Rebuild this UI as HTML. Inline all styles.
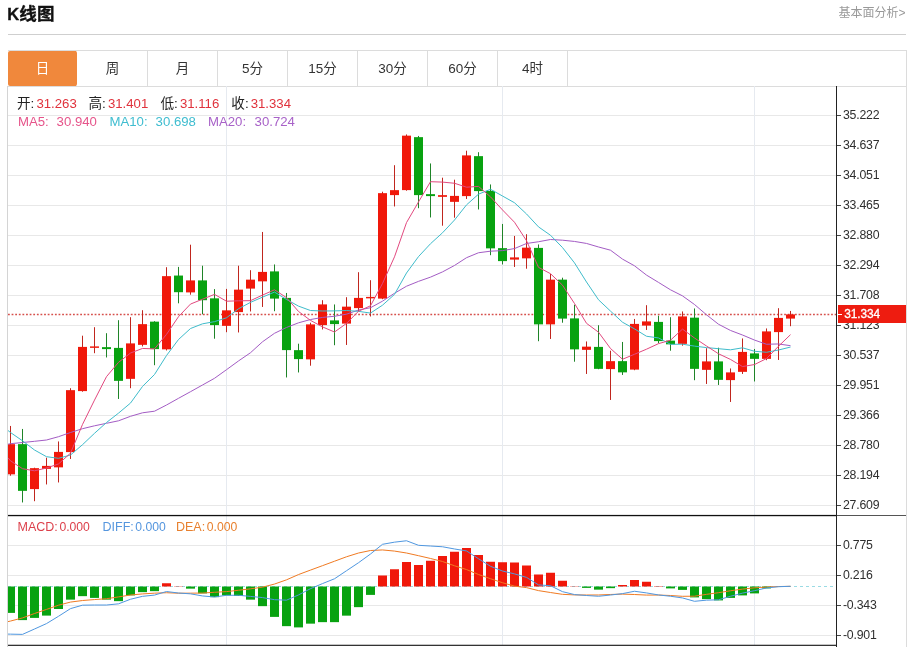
<!DOCTYPE html>
<html lang="zh-CN">
<head>
<meta charset="utf-8">
<title>K线图</title>
<style>
html,body{margin:0;padding:0;background:#fff;}
body{width:911px;height:647px;position:relative;overflow:hidden;
 font-family:"Liberation Sans","Noto Sans CJK SC",sans-serif;color:#222;}
.title{position:absolute;left:7.2px;top:1px;font-size:17.5px;font-weight:bold;color:#111;line-height:26px;white-space:nowrap;letter-spacing:0.2px;-webkit-text-stroke:0.35px #111}
.title b{font-size:16.5px;letter-spacing:0.2px}
.more{position:absolute;right:5.5px;top:4px;font-size:12px;color:#999;line-height:18px;white-space:nowrap}
.hr{position:absolute;left:8px;top:34px;width:898px;height:1px;background:#cfcfcf}
.tabs{position:absolute;left:8px;top:50px;width:898px;height:35px;border:1px solid #dcdcdc;border-left:none;box-sizing:content-box}
.tab{position:absolute;top:0;width:69px;height:35px;border-right:1px solid #dcdcdc;line-height:36px;text-align:center;font-size:13.5px;color:#333}
.tab.on{background:#f0883c;color:#fff;left:0px!important;border-right-color:#fff;background-clip:padding-box;top:0;height:35px;border-radius:2px}
.lg{position:absolute;white-space:nowrap;line-height:16px}
.l1{font-size:13.6px;top:95.5px;color:#222}
.l1 i{font-style:normal;color:#e0323c;font-size:13.2px;margin-left:2px}
.l2{font-size:13.2px;top:113.5px}
.l3{font-size:12.5px;top:518.5px}
.l3 i{font-style:normal;font-size:12.2px;margin-left:1.6px}
.yl{position:absolute;left:843px;font-size:12.3px;line-height:16px;color:#2e2e2e;white-space:nowrap;letter-spacing:-0.22px}
.tag{position:absolute;left:838px;top:305.2px;width:68px;height:17.5px;background:#ee1c10;font-size:11.9px;line-height:19.4px;color:#fff;white-space:nowrap;letter-spacing:-0.1px;text-indent:6.2px;-webkit-text-stroke:0.3px #fff}
.tag:before{content:"";position:absolute;left:0;top:8.6px;width:3.5px;height:1px;background:#fff}
</style>
</head>
<body>
<div class="title"><b>K</b>线图</div>
<div class="more">基本面分析&gt;</div>
<div class="hr"></div>
<div class="tabs">
<div class="tab on" style="left:0px">日</div>
<div class="tab" style="left:70px">周</div>
<div class="tab" style="left:140px">月</div>
<div class="tab" style="left:210px">5分</div>
<div class="tab" style="left:280px">15分</div>
<div class="tab" style="left:350px">30分</div>
<div class="tab" style="left:420px">60分</div>
<div class="tab" style="left:490px">4时</div>
</div>
<svg width="911" height="561" viewBox="0 0 911 561" style="position:absolute;left:0;top:86px">
<defs><clipPath id="cp"><rect x="8" y="0" width="828" height="561"/></clipPath></defs>
<rect x="8" y="29" width="828" height="1" fill="#e8e8e8"/><rect x="8" y="59" width="828" height="1" fill="#e8e8e8"/><rect x="8" y="89" width="828" height="1" fill="#e8e8e8"/><rect x="8" y="119" width="828" height="1" fill="#e8e8e8"/><rect x="8" y="149" width="828" height="1" fill="#e8e8e8"/><rect x="8" y="179" width="828" height="1" fill="#e8e8e8"/><rect x="8" y="209" width="828" height="1" fill="#e8e8e8"/><rect x="8" y="239" width="828" height="1" fill="#e8e8e8"/><rect x="8" y="269" width="828" height="1" fill="#e8e8e8"/><rect x="8" y="299" width="828" height="1" fill="#e8e8e8"/><rect x="8" y="329" width="828" height="1" fill="#e8e8e8"/><rect x="8" y="359" width="828" height="1" fill="#e8e8e8"/><rect x="8" y="389" width="828" height="1" fill="#e8e8e8"/><rect x="8" y="419" width="828" height="1" fill="#e8e8e8"/><rect x="8" y="459" width="828" height="1" fill="#e8e8e8"/><rect x="8" y="489" width="828" height="1" fill="#e8e8e8"/><rect x="8" y="519" width="828" height="1" fill="#e8e8e8"/><rect x="8" y="549" width="828" height="1" fill="#e8e8e8"/><rect x="226" y="0" width="1" height="559" fill="#e6eaf0"/><rect x="502" y="0" width="1" height="559" fill="#e6eaf0"/><rect x="754" y="0" width="1" height="559" fill="#e6eaf0"/>
<line x1="8" y1="228.4" x2="836" y2="228.4" stroke="#d6504c" stroke-width="1.5" stroke-dasharray="1.8 1.81"/>
<line x1="8" y1="500.5" x2="833" y2="500.5" stroke="#9adbe4" stroke-width="1" stroke-dasharray="3 3"/>
<g clip-path="url(#cp)">
<rect x="10" y="339.95" width="1" height="49.75" fill="#c0261e"/><rect x="6" y="358.15" width="9" height="30.2" fill="#f0180a"/><rect x="22" y="342.95" width="1" height="73.5" fill="#1f8428"/><rect x="18" y="358.15" width="9" height="46.7" fill="#08a210"/><rect x="34" y="381.7" width="1" height="33.5" fill="#c0261e"/><rect x="30" y="382.15" width="9" height="20.95" fill="#f0180a"/><rect x="46" y="371.7" width="1" height="26.75" fill="#c0261e"/><rect x="42" y="379.9" width="9" height="2.95" fill="#f0180a"/><rect x="58" y="355.45" width="1" height="41" fill="#c0261e"/><rect x="54" y="365.9" width="9" height="15.45" fill="#f0180a"/><rect x="70" y="302.2" width="1" height="70.75" fill="#c0261e"/><rect x="66" y="304.15" width="9" height="61.95" fill="#f0180a"/><rect x="82" y="249.7" width="1" height="56" fill="#c0261e"/><rect x="78" y="260.9" width="9" height="44.2" fill="#f0180a"/><rect x="94" y="241.2" width="1" height="26" fill="#c0261e"/><rect x="90" y="260.4" width="9" height="1.45" fill="#f0180a"/><rect x="106" y="247.2" width="1" height="24.25" fill="#1f8428"/><rect x="102" y="261.15" width="9" height="1.95" fill="#08a210"/><rect x="118" y="234.2" width="1" height="78.75" fill="#1f8428"/><rect x="114" y="261.9" width="9" height="32.95" fill="#08a210"/><rect x="130" y="231.2" width="1" height="71" fill="#c0261e"/><rect x="126" y="257.4" width="9" height="35.45" fill="#f0180a"/><rect x="142" y="224.2" width="1" height="36.25" fill="#c0261e"/><rect x="138" y="238.15" width="9" height="20.7" fill="#f0180a"/><rect x="154" y="235.2" width="1" height="44" fill="#1f8428"/><rect x="150" y="235.65" width="9" height="27.45" fill="#08a210"/><rect x="166" y="181.2" width="1" height="83.25" fill="#c0261e"/><rect x="162" y="190.15" width="9" height="73.2" fill="#f0180a"/><rect x="178" y="180.9" width="1" height="36.4" fill="#1f8428"/><rect x="174" y="189.55" width="9" height="16.65" fill="#08a210"/><rect x="190" y="158.7" width="1" height="50" fill="#c0261e"/><rect x="186" y="194.4" width="9" height="12" fill="#f0180a"/><rect x="202" y="179.7" width="1" height="48.6" fill="#1f8428"/><rect x="198" y="194.4" width="9" height="19.8" fill="#08a210"/><rect x="214" y="203.1" width="1" height="49.6" fill="#1f8428"/><rect x="210" y="212.35" width="9" height="26.75" fill="#08a210"/><rect x="226" y="202.9" width="1" height="43.3" fill="#c0261e"/><rect x="222" y="224.35" width="9" height="15.5" fill="#f0180a"/><rect x="238" y="179.7" width="1" height="66.75" fill="#c0261e"/><rect x="234" y="203.65" width="9" height="22.45" fill="#f0180a"/><rect x="250" y="184.2" width="1" height="41.25" fill="#c0261e"/><rect x="246" y="193.65" width="9" height="8.95" fill="#f0180a"/><rect x="262" y="145.95" width="1" height="75" fill="#c0261e"/><rect x="258" y="185.9" width="9" height="9.45" fill="#f0180a"/><rect x="274" y="178.45" width="1" height="46.75" fill="#1f8428"/><rect x="270" y="185.4" width="9" height="27.2" fill="#08a210"/><rect x="286" y="206.95" width="1" height="84.5" fill="#1f8428"/><rect x="282" y="211.9" width="9" height="52.2" fill="#08a210"/><rect x="298" y="257.7" width="1" height="28.75" fill="#1f8428"/><rect x="294" y="264.15" width="9" height="8.95" fill="#08a210"/><rect x="310" y="236.7" width="1" height="43" fill="#c0261e"/><rect x="306" y="238.4" width="9" height="34.95" fill="#f0180a"/><rect x="322" y="214.2" width="1" height="29.25" fill="#c0261e"/><rect x="318" y="218.4" width="9" height="20.7" fill="#f0180a"/><rect x="334" y="218.45" width="1" height="40.75" fill="#1f8428"/><rect x="330" y="234.4" width="9" height="3.7" fill="#08a210"/><rect x="346" y="211.2" width="1" height="47.75" fill="#c0261e"/><rect x="342" y="220.65" width="9" height="16.95" fill="#f0180a"/><rect x="358" y="186.2" width="1" height="39" fill="#c0261e"/><rect x="354" y="211.9" width="9" height="10.2" fill="#f0180a"/><rect x="370" y="194.2" width="1" height="36.25" fill="#c0261e"/><rect x="366" y="210.9" width="9" height="1.45" fill="#f0180a"/><rect x="382" y="105.7" width="1" height="107.5" fill="#c0261e"/><rect x="378" y="107.15" width="9" height="105.45" fill="#f0180a"/><rect x="394" y="79.2" width="1" height="41.25" fill="#c0261e"/><rect x="390" y="104.15" width="9" height="4.95" fill="#f0180a"/><rect x="406" y="48.45" width="1" height="56.25" fill="#c0261e"/><rect x="402" y="49.65" width="9" height="54.45" fill="#f0180a"/><rect x="418" y="49.95" width="1" height="72.25" fill="#1f8428"/><rect x="414" y="51.15" width="9" height="57.95" fill="#08a210"/><rect x="430" y="77.45" width="1" height="54" fill="#1f8428"/><rect x="426" y="108.15" width="9" height="1.95" fill="#08a210"/><rect x="442" y="91.7" width="1" height="48" fill="#c0261e"/><rect x="438" y="109.15" width="9" height="1.7" fill="#f0180a"/><rect x="454" y="93.7" width="1" height="38" fill="#c0261e"/><rect x="450" y="109.9" width="9" height="5.95" fill="#f0180a"/><rect x="466" y="64.7" width="1" height="48.25" fill="#c0261e"/><rect x="462" y="69.4" width="9" height="40.7" fill="#f0180a"/><rect x="478" y="66.2" width="1" height="57.25" fill="#1f8428"/><rect x="474" y="70.15" width="9" height="34.95" fill="#08a210"/><rect x="490" y="98.45" width="1" height="70.75" fill="#1f8428"/><rect x="486" y="104.9" width="9" height="57.45" fill="#08a210"/><rect x="502" y="137.95" width="1" height="40.5" fill="#1f8428"/><rect x="498" y="162.15" width="9" height="12.95" fill="#08a210"/><rect x="514" y="149.95" width="1" height="31" fill="#c0261e"/><rect x="510" y="171.4" width="9" height="2.2" fill="#f0180a"/><rect x="526" y="148.2" width="1" height="34.5" fill="#c0261e"/><rect x="522" y="161.65" width="9" height="10.7" fill="#f0180a"/><rect x="538" y="158.45" width="1" height="96.75" fill="#1f8428"/><rect x="534" y="161.9" width="9" height="76.45" fill="#08a210"/><rect x="550" y="187.95" width="1" height="65" fill="#c0261e"/><rect x="546" y="193.65" width="9" height="44.7" fill="#f0180a"/><rect x="562" y="191.7" width="1" height="45" fill="#1f8428"/><rect x="558" y="193.65" width="9" height="38.95" fill="#08a210"/><rect x="574" y="218.7" width="1" height="57" fill="#1f8428"/><rect x="570" y="232.4" width="9" height="30.95" fill="#08a210"/><rect x="586" y="255.45" width="1" height="32.5" fill="#c0261e"/><rect x="582" y="260.65" width="9" height="3.2" fill="#f0180a"/><rect x="598" y="239.2" width="1" height="44" fill="#1f8428"/><rect x="594" y="260.9" width="9" height="21.95" fill="#08a210"/><rect x="610" y="264.7" width="1" height="49.25" fill="#c0261e"/><rect x="606" y="275.15" width="9" height="7.95" fill="#f0180a"/><rect x="622" y="255.95" width="1" height="33" fill="#1f8428"/><rect x="618" y="275.15" width="9" height="11.2" fill="#08a210"/><rect x="634" y="232.95" width="1" height="51.25" fill="#c0261e"/><rect x="630" y="237.9" width="9" height="45.7" fill="#f0180a"/><rect x="646" y="219.2" width="1" height="24.75" fill="#c0261e"/><rect x="642" y="235.4" width="9" height="4.2" fill="#f0180a"/><rect x="658" y="229.7" width="1" height="27.5" fill="#1f8428"/><rect x="654" y="235.9" width="9" height="19.2" fill="#08a210"/><rect x="670" y="231.2" width="1" height="33.5" fill="#1f8428"/><rect x="666" y="254.65" width="9" height="3.7" fill="#08a210"/><rect x="682" y="225.45" width="1" height="34.25" fill="#c0261e"/><rect x="678" y="230.4" width="9" height="27.45" fill="#f0180a"/><rect x="694" y="222.45" width="1" height="71.75" fill="#1f8428"/><rect x="690" y="231.65" width="9" height="51.2" fill="#08a210"/><rect x="706" y="262.2" width="1" height="35.75" fill="#c0261e"/><rect x="702" y="275.4" width="9" height="8.45" fill="#f0180a"/><rect x="718" y="261.7" width="1" height="37.25" fill="#1f8428"/><rect x="714" y="275.4" width="9" height="18.45" fill="#08a210"/><rect x="730" y="282.45" width="1" height="33.5" fill="#c0261e"/><rect x="726" y="286.4" width="9" height="7.7" fill="#f0180a"/><rect x="742" y="252.45" width="1" height="35.5" fill="#c0261e"/><rect x="738" y="265.9" width="9" height="19.95" fill="#f0180a"/><rect x="754" y="262.95" width="1" height="32.5" fill="#1f8428"/><rect x="750" y="267.4" width="9" height="5.45" fill="#08a210"/><rect x="766" y="242.45" width="1" height="31.75" fill="#c0261e"/><rect x="762" y="245.4" width="9" height="27.45" fill="#f0180a"/><rect x="778" y="222.2" width="1" height="51.75" fill="#c0261e"/><rect x="774" y="231.9" width="9" height="14.2" fill="#f0180a"/><rect x="790" y="224.95" width="1" height="15.25" fill="#c0261e"/><rect x="786" y="228.4" width="9" height="4.2" fill="#f0180a"/>
<rect x="6" y="500.5" width="9" height="26.4" fill="#08a210"/><rect x="18" y="500.5" width="9" height="33.6" fill="#08a210"/><rect x="30" y="500.5" width="9" height="31.4" fill="#08a210"/><rect x="42" y="500.5" width="9" height="29.1" fill="#08a210"/><rect x="54" y="500.5" width="9" height="22.5" fill="#08a210"/><rect x="66" y="500.5" width="9" height="13.15" fill="#08a210"/><rect x="78" y="500.5" width="9" height="9.65" fill="#08a210"/><rect x="90" y="500.5" width="9" height="11.4" fill="#08a210"/><rect x="102" y="500.5" width="9" height="13.15" fill="#08a210"/><rect x="114" y="500.5" width="9" height="14.65" fill="#08a210"/><rect x="126" y="500.5" width="9" height="8.9" fill="#08a210"/><rect x="138" y="500.5" width="9" height="5.65" fill="#08a210"/><rect x="150" y="500.5" width="9" height="4.65" fill="#08a210"/><rect x="162" y="497.25" width="9" height="3.25" fill="#f0180a"/><rect x="174" y="500.2" width="9" height="0.3" fill="#f0180a"/><rect x="186" y="500.5" width="9" height="2.15" fill="#08a210"/><rect x="198" y="500.5" width="9" height="6.9" fill="#08a210"/><rect x="210" y="500.5" width="9" height="10.65" fill="#08a210"/><rect x="222" y="500.5" width="9" height="8.9" fill="#08a210"/><rect x="234" y="500.5" width="9" height="9.4" fill="#08a210"/><rect x="246" y="500.5" width="9" height="13.15" fill="#08a210"/><rect x="258" y="500.5" width="9" height="19.65" fill="#08a210"/><rect x="270" y="500.5" width="9" height="30.4" fill="#08a210"/><rect x="282" y="500.5" width="9" height="39.65" fill="#08a210"/><rect x="294" y="500.5" width="9" height="40.9" fill="#08a210"/><rect x="306" y="500.5" width="9" height="37.15" fill="#08a210"/><rect x="318" y="500.5" width="9" height="35.65" fill="#08a210"/><rect x="330" y="500.5" width="9" height="35.65" fill="#08a210"/><rect x="342" y="500.5" width="9" height="29.15" fill="#08a210"/><rect x="354" y="500.5" width="9" height="20.65" fill="#08a210"/><rect x="366" y="500.5" width="9" height="8.4" fill="#08a210"/><rect x="378" y="489.5" width="9" height="11" fill="#f0180a"/><rect x="390" y="483.25" width="9" height="17.25" fill="#f0180a"/><rect x="402" y="476" width="9" height="24.5" fill="#f0180a"/><rect x="414" y="479" width="9" height="21.5" fill="#f0180a"/><rect x="426" y="474.75" width="9" height="25.75" fill="#f0180a"/><rect x="438" y="470" width="9" height="30.5" fill="#f0180a"/><rect x="450" y="465.75" width="9" height="34.75" fill="#f0180a"/><rect x="462" y="462" width="9" height="38.5" fill="#f0180a"/><rect x="474" y="469" width="9" height="31.5" fill="#f0180a"/><rect x="486" y="475.75" width="9" height="24.75" fill="#f0180a"/><rect x="498" y="476.25" width="9" height="24.25" fill="#f0180a"/><rect x="510" y="476.5" width="9" height="24" fill="#f0180a"/><rect x="522" y="479.5" width="9" height="21" fill="#f0180a"/><rect x="534" y="488.5" width="9" height="12" fill="#f0180a"/><rect x="546" y="486.75" width="9" height="13.75" fill="#f0180a"/><rect x="558" y="494.75" width="9" height="5.75" fill="#f0180a"/><rect x="570" y="500.2" width="9" height="0.3" fill="#f0180a"/><rect x="582" y="500.5" width="9" height="1.4" fill="#08a210"/><rect x="594" y="500.5" width="9" height="3.15" fill="#08a210"/><rect x="606" y="500.5" width="9" height="1.65" fill="#08a210"/><rect x="618" y="499" width="9" height="1.5" fill="#f0180a"/><rect x="630" y="494" width="9" height="6.5" fill="#f0180a"/><rect x="642" y="495.75" width="9" height="4.75" fill="#f0180a"/><rect x="654" y="500.1" width="9" height="0.4" fill="#f0180a"/><rect x="666" y="500.5" width="9" height="1.9" fill="#08a210"/><rect x="678" y="500.5" width="9" height="3.4" fill="#08a210"/><rect x="690" y="500.5" width="9" height="10.9" fill="#08a210"/><rect x="702" y="500.5" width="9" height="12.65" fill="#08a210"/><rect x="714" y="500.5" width="9" height="13.9" fill="#08a210"/><rect x="726" y="500.5" width="9" height="11.4" fill="#08a210"/><rect x="738" y="500.5" width="9" height="8.9" fill="#08a210"/><rect x="750" y="500.5" width="9" height="6.9" fill="#08a210"/><rect x="762" y="500.5" width="9" height="1.9" fill="#08a210"/>
<polyline fill="none" stroke="#a35cc4" stroke-width="1.0" stroke-linejoin="round" points="8,358.2 10.5,357.7 22.5,356.5 34.5,355.3 46.5,354 58.5,350.7 70.5,346.5 82.5,342.7 94.5,339.8 106.5,337.3 118.5,334.8 130.5,330.3 142.5,326.8 154.5,325.2 166.5,319 178.5,312.3 190.5,305.7 202.5,299 214.5,292.3 226.5,283.7 238.5,274.94 250.5,266.72 262.5,255.79 274.5,247.29 286.5,241.48 298.5,236.82 310.5,233.53 322.5,231.41 334.5,230.27 346.5,228.17 358.5,224.04 370.5,221.72 382.5,215.17 394.5,207.25 406.5,200.22 418.5,195.37 430.5,191.13 442.5,185.9 454.5,179.46 466.5,171.71 478.5,166.76 490.5,165.18 502.5,164.61 514.5,162.57 526.5,157.47 538.5,155.74 550.5,153.5 562.5,154.19 574.5,155.45 586.5,157.45 598.5,160.97 610.5,164.19 622.5,173.12 634.5,179.81 646.5,189.1 658.5,196.4 670.5,203.81 682.5,209.88 694.5,218.5 706.5,228.8 718.5,238.24 730.5,244.46 742.5,249.02 754.5,254.07 766.5,258.26 778.5,257.96 790.5,259.7"/>
<polyline fill="none" stroke="#3fbccb" stroke-width="1.0" stroke-linejoin="round" points="8,344.5 10.5,346.5 22.5,354.8 34.5,364 46.5,370.7 58.5,372.3 70.5,369 82.5,358.7 94.5,347.3 106.5,336.5 118.5,327.15 130.5,317.07 142.5,300.45 154.5,288.5 166.5,269.52 178.5,253.51 190.5,242.53 202.5,237.82 214.5,235.64 226.5,231.81 238.5,222.74 250.5,216.37 262.5,211.14 274.5,206.09 286.5,213.44 298.5,220.13 310.5,224.53 322.5,225 334.5,224.89 346.5,224.52 358.5,225.35 370.5,227.07 382.5,219.2 394.5,208.4 406.5,187 418.5,170.6 430.5,157.72 442.5,146.8 454.5,134.03 466.5,118.9 478.5,108.18 490.5,103.28 502.5,110.03 514.5,116.75 526.5,127.95 538.5,140.88 550.5,149.28 562.5,161.57 574.5,176.88 586.5,196 598.5,213.77 610.5,225.1 622.5,236.23 634.5,242.88 646.5,250.25 658.5,251.93 670.5,258.35 682.5,258.18 694.5,260.12 706.5,261.6 718.5,262.7 730.5,263.82 742.5,261.82 754.5,265.27 766.5,266.27 778.5,264 790.5,261.05"/>
<polyline fill="none" stroke="#e2497f" stroke-width="1.0" stroke-linejoin="round" points="8,371.8 10.5,374.8 22.5,382.7 34.5,384.8 46.5,382 58.5,377.95 70.5,367.15 82.5,338.45 94.5,314.1 106.5,290.65 118.5,276.35 130.5,267 142.5,262.45 154.5,262.9 166.5,248.4 178.5,230.67 190.5,218.07 202.5,213.19 214.5,208.39 226.5,215.23 238.5,214.81 250.5,214.66 262.5,209.09 274.5,203.79 286.5,211.65 298.5,225.45 310.5,234.4 322.5,240.9 334.5,246 346.5,237.4 358.5,225.25 370.5,219.75 382.5,197.5 394.5,170.8 406.5,136.6 418.5,115.95 430.5,95.7 442.5,96.1 454.5,97.25 466.5,101.2 478.5,100.4 490.5,110.85 502.5,123.95 514.5,136.25 526.5,154.7 538.5,181.35 550.5,187.7 562.5,199.2 574.5,217.5 586.5,237.3 598.5,246.2 610.5,262.5 622.5,273.25 634.5,268.25 646.5,263.2 658.5,257.65 670.5,254.2 682.5,243.1 694.5,252 706.5,260 718.5,267.75 730.5,273.45 742.5,280.55 754.5,278.55 766.5,272.55 778.5,260.25 790.5,248.65"/>
<polyline fill="none" stroke="#f07a22" stroke-width="1.0" stroke-linejoin="round" points="8,535.6 10.5,535.05 22.5,531.92 34.5,527.5 46.5,523.41 58.5,519.21 70.5,516.08 82.5,514.52 94.5,513.57 106.5,512.72 118.5,510.91 130.5,509 142.5,507.91 154.5,507.16 166.5,506.72 178.5,507.23 190.5,507.16 202.5,507.06 214.5,506.28 226.5,505.61 238.5,504.25 250.5,502.84 262.5,501.16 274.5,498.06 286.5,493.84 298.5,488.56 310.5,484.09 322.5,479.66 334.5,475.22 346.5,470.78 358.5,467.03 370.5,464.5 382.5,463.94 394.5,465.09 406.5,467 418.5,469.69 430.5,472.47 442.5,475.5 454.5,479.78 466.5,483.56 478.5,488.5 490.5,492.72 502.5,496.72 514.5,500.12 526.5,501.62 538.5,504.62 550.5,506.53 562.5,508.34 574.5,508.91 586.5,509 598.5,508.97 610.5,508.47 622.5,508.12 634.5,508.5 646.5,509.09 658.5,509.05 670.5,509.5 682.5,510.31 694.5,510.19 706.5,508.34 718.5,506.69 730.5,504.75 742.5,503.12 754.5,501.81 766.5,501.06 778.5,500.56 790.5,500.3"/>
<polyline fill="none" stroke="#4f97e0" stroke-width="1.0" stroke-linejoin="round" points="8,548.1 10.5,548.15 22.5,548.38 34.5,543 46.5,537.59 58.5,530.29 70.5,522.62 82.5,519.18 94.5,519.02 106.5,519.03 118.5,517.84 130.5,513.25 142.5,510.34 154.5,509.09 166.5,505.53 178.5,507.02 190.5,507.84 202.5,509.94 214.5,510.97 226.5,509.29 238.5,509.25 250.5,510.41 262.5,511.59 274.5,513.69 286.5,514.16 298.5,508.94 310.5,502.66 322.5,497.59 334.5,492.78 346.5,484.72 358.5,476.72 370.5,468 382.5,458.31 394.5,456.16 406.5,454.75 418.5,459.31 430.5,460.03 442.5,460.75 454.5,462.97 466.5,464.94 478.5,472.75 490.5,480.28 502.5,485.03 514.5,487.88 526.5,491.38 538.5,498.88 550.5,499.72 562.5,505.66 574.5,508.59 586.5,509.5 598.5,510.28 610.5,509.03 622.5,507.62 634.5,505.25 646.5,506.91 658.5,508.95 670.5,510.25 682.5,511.94 694.5,515.31 706.5,514.16 718.5,513.81 730.5,510.25 742.5,507.12 754.5,504.69 766.5,501.94 778.5,500.69 790.5,500.3"/>
</g>
<rect x="7" y="0" width="1" height="561" fill="#d4d4d4"/>
<rect x="8" y="428.9" width="828" height="1.3" fill="#111"/>
<rect x="837" y="429" width="69" height="1" fill="#555"/>
<rect x="8" y="558.75" width="829" height="1.1" fill="#111"/>
<rect x="836" y="0" width="1" height="561" fill="#222"/>
<rect x="906" y="0" width="1" height="561" fill="#dcdcdc"/>
<rect x="837" y="29" width="4" height="1" fill="#444"/><rect x="837" y="59" width="4" height="1" fill="#444"/><rect x="837" y="89" width="4" height="1" fill="#444"/><rect x="837" y="119" width="4" height="1" fill="#444"/><rect x="837" y="149" width="4" height="1" fill="#444"/><rect x="837" y="179" width="4" height="1" fill="#444"/><rect x="837" y="209" width="4" height="1" fill="#444"/><rect x="837" y="239" width="4" height="1" fill="#444"/><rect x="837" y="269" width="4" height="1" fill="#444"/><rect x="837" y="299" width="4" height="1" fill="#444"/><rect x="837" y="329" width="4" height="1" fill="#444"/><rect x="837" y="359" width="4" height="1" fill="#444"/><rect x="837" y="389" width="4" height="1" fill="#444"/><rect x="837" y="419" width="4" height="1" fill="#444"/><rect x="837" y="459" width="4" height="1" fill="#444"/><rect x="837" y="489" width="4" height="1" fill="#444"/><rect x="837" y="519" width="4" height="1" fill="#444"/><rect x="837" y="549" width="4" height="1" fill="#444"/>
</svg>
<div class="lg l1" style="left:17px">开:<i>31.263</i></div>
<div class="lg l1" style="left:88.5px">高:<i>31.401</i></div>
<div class="lg l1" style="left:160.5px">低:<i>31.116</i></div>
<div class="lg l1" style="left:231.3px">收:<i>31.334</i></div>
<div class="lg l2" style="left:18px;color:#e6548a">MA5:</div><div class="lg l2" style="left:56.6px;color:#e6548a">30.940</div>
<div class="lg l2" style="left:109.5px;color:#3fbdd0">MA10:</div><div class="lg l2" style="left:155.6px;color:#3fbdd0">30.698</div>
<div class="lg l2" style="left:208px;color:#a862c8">MA20:</div><div class="lg l2" style="left:254.6px;color:#a862c8">30.724</div>
<div class="lg l3" style="left:17.5px;color:#dc3f4a">MACD:<i>0.000</i></div>
<div class="lg l3" style="left:102.5px;color:#5596de">DIFF:<i>0.000</i></div>
<div class="lg l3" style="left:176px;color:#e8802e">DEA:<i>0.000</i></div>
<div class="yl" style="top:107.1px">35.222</div>
<div class="yl" style="top:137.1px">34.637</div>
<div class="yl" style="top:167.1px">34.051</div>
<div class="yl" style="top:197.1px">33.465</div>
<div class="yl" style="top:227.1px">32.880</div>
<div class="yl" style="top:257.1px">32.294</div>
<div class="yl" style="top:287.1px">31.708</div>
<div class="yl" style="top:317.1px">31.123</div>
<div class="yl" style="top:347.1px">30.537</div>
<div class="yl" style="top:377.1px">29.951</div>
<div class="yl" style="top:407.1px">29.366</div>
<div class="yl" style="top:437.1px">28.780</div>
<div class="yl" style="top:467.1px">28.194</div>
<div class="yl" style="top:497.1px">27.609</div>
<div class="yl" style="top:537.1px">0.775</div>
<div class="yl" style="top:567.1px">0.216</div>
<div class="yl" style="top:597.1px">-0.343</div>
<div class="yl" style="top:627.1px">-0.901</div>
<div class="tag">31.334</div>
</body>
</html>
